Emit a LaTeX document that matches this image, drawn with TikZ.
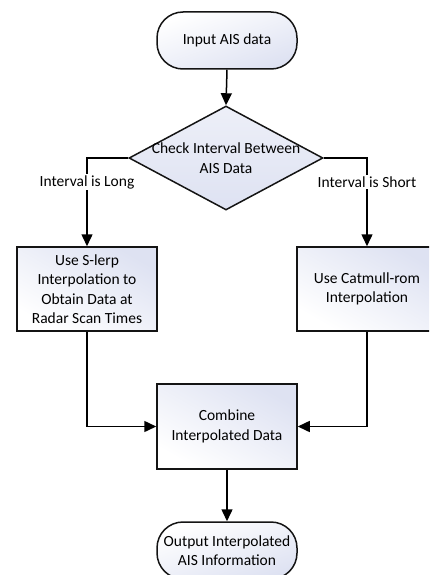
\documentclass[tikz,border=0pt]{standalone}
\usepackage{fontspec}
\setmainfont{Carlito}
\usetikzlibrary{arrows.meta,shapes.geometric,calc}
\definecolor{lav}{RGB}{222,226,242}
\definecolor{edge}{RGB}{20,20,20}
\begin{document}
\begin{tikzpicture}[x=1pt,y=1pt,
  font=\fontsize{15.5}{19.5}\selectfont,
  base/.style={draw=edge, line width=1.5pt, align=center, inner sep=0pt},
  procbox/.style={base, rectangle, minimum width=140pt, minimum height=84pt,
     shading=axis, top color=lav, bottom color=white, shading angle=-30},
  termbox/.style={base, rectangle, rounded corners=26pt, minimum width=140pt, minimum height=57pt,
     shading=axis, top color=white, bottom color=lav, shading angle=20},
  decbox/.style={base, diamond, minimum width=194pt, minimum height=104pt,
     shading=axis, top color=lav!55!white, bottom color=lav},
  arr/.style={draw=black, line width=1.5pt, -{Triangle[length=12pt,width=11pt]}},
  lab/.style={fill=white, inner sep=1.5pt}
]
\useasboundingbox (0,0) rectangle (429,-575);
\clip (0,0) rectangle (429,-575);

\node[termbox] (start) at (227,-40.5) {Input AIS data};
\node[decbox] (dec) at (226,-158) {};
\node[align=center, inner sep=0pt] (dectext) at (226,-158) {Check Interval Between\\AIS Data};
\node[procbox] (slerp) at (87,-289) {Use S-lerp\\Interpolation to\\Obtain Data at\\Radar Scan Times};
\node[procbox] (catmull) at (367,-289) {Use Catmull-rom\\Interpolation};
\node[procbox, minimum height=85pt] (comb) at (227,-426.5) {Combine\\Interpolated Data};
\node[termbox] (out) at (227,-550.5) {Output Interpolated\\AIS Information};

\draw[arr] (start.south) -- (dec.north);
\draw[arr] (dec.west) -| (slerp.north);
\draw[arr] (dec.east) -| (catmull.north);
\draw[arr] (slerp.south) |- (comb.west);
\draw[arr] (catmull.south) |- (comb.east);
\draw[arr] (comb.south) -- (out.north);

\node[lab] (longlab) at (87,-182) {Interval is Long};
\node[lab] (shortlab) at (367,-182) {Interval is Short};
\end{tikzpicture}
\end{document}
